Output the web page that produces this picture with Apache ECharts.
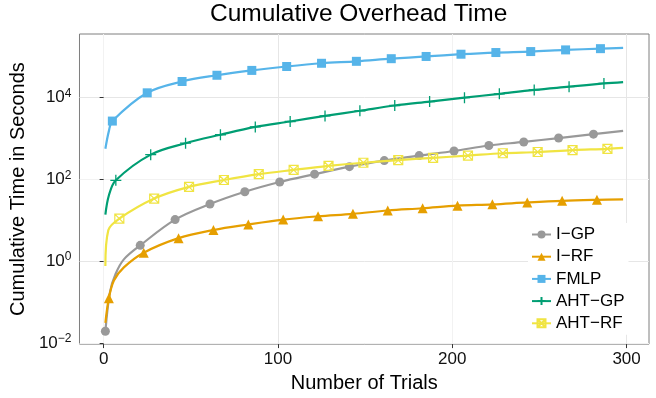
<!DOCTYPE html>
<html><head><meta charset="utf-8">
<script src="https://cdn.jsdelivr.net/npm/echarts@6/dist/echarts.min.js"></script>
<style>html,body{margin:0;padding:0;background:#fff}#c{width:656px;height:398px}</style>
</head><body><div id="c"></div>
<script>
// ---- data ----
const seriesNames = ['I\u2212GP', 'I\u2212RF', 'FMLP', 'AHT\u2212GP', 'AHT\u2212RF'];
const xTickValues = [0, 100, 200, 300];
const yTickValues = [0.01, 1, 100, 10000];

const igpX = [1, 3.65, 6.85, 11.6, 21, 41, 61, 81, 101, 121, 141, 161, 181, 201, 221, 241, 261, 281, 298];
const igpY = [0.0192, 0.177, 0.484, 1.10, 2.42, 10.3, 24.8, 49.5, 85.8, 133, 203, 285, 378, 489, 668, 815, 1015, 1262, 1521];
const igpMarks = [1, 21, 41, 61, 81, 101, 121, 141, 161, 181, 201, 221, 241, 261, 281];

const irfX = [1, 3, 5.9, 11.6, 23, 43, 63, 83, 103, 123, 143, 163, 183, 203, 223, 243, 263, 283, 298];
const irfY = [0.031, 0.123, 0.336, 0.70, 1.60, 3.63, 5.73, 7.83, 10.3, 12.4, 14.3, 17.2, 19.5, 22.6, 24.3, 27.1, 29.7, 31.4, 32.3];
const irfMarks = [3, 23, 43, 63, 83, 103, 123, 143, 163, 183, 203, 223, 243, 263, 283];

const fmlpX = [1, 3, 5, 25, 45, 65, 85, 105, 125, 145, 165, 185, 205, 225, 245, 265, 285, 298];
const fmlpY = [555, 1500, 2640, 12950, 24500, 34800, 45700, 57000, 68300, 76200, 88400, 100200, 113700, 125000, 132000, 145000, 155500, 161800];
const fmlpMarks = [5, 25, 45, 65, 85, 105, 125, 145, 165, 185, 205, 225, 245, 265, 285];

const ahtgpX = [1, 3, 7, 27, 47, 67, 87, 107, 127, 147, 167, 187, 207, 227, 247, 267, 287, 298];
const ahtgpY = [13.6, 40, 94, 399, 759, 1222, 1897, 2578, 3524, 4713, 6339, 7893, 9840, 12250, 15270, 18290, 21930, 23660];
const ahtgpMarks = [7, 27, 47, 67, 87, 107, 127, 147, 167, 187, 207, 227, 247, 267, 287];

const ahtrfX = [1, 2.7, 9, 29, 49, 69, 89, 109, 129, 149, 169, 189, 209, 229, 249, 269, 289, 298];
const ahtrfY = [0.76, 5.7, 10.9, 33.7, 65.2, 95.7, 133, 169, 211, 253, 293, 333, 378, 431, 463, 516, 555, 586];
const ahtrfMarks = [9, 29, 49, 69, 89, 109, 129, 149, 169, 189, 209, 229, 249, 269, 289];

// ---- styling ----
const FONT = 'Liberation Sans, Arial, Helvetica, sans-serif';
const colors = ['#999999', '#E69F00', '#56B4E9', '#009E73', '#F0E442'];
const GRID_MAJOR = '#e6e6e6', GRID_MINOR = '#f2f2f2';

function buildData(xs, ys, marks) {
  return xs.map((x, i) => {
    const item = { value: [x, ys[i]] };
    if (marks.indexOf(x) < 0) item.symbol = 'none';
    return item;
  });
}

function mkSeries(idx, xs, ys, marks, symbol, size, itemStyle) {
  return {
    name: seriesNames[idx],
    type: 'line',
    data: buildData(xs, ys, marks),
    smooth: 0.35,
    showAllSymbol: true,
    symbol: symbol,
    symbolSize: size,
    lineStyle: { color: colors[idx], width: 2.2 },
    itemStyle: itemStyle,
    emphasis: { disabled: true },
    animation: false,
    z: 2 + idx
  };
}

const expLabel = function (v) {
  const l = Math.log10(v);
  const e = Math.round(l);
  if (Math.abs(l - e) > 1e-6 || e % 2 !== 0) return '';
  return '{b|10}{s|' + (e < 0 ? '\u2212' + (-e) : e) + '}';
};

const chart = echarts.init(document.getElementById('c'), null, { renderer: 'canvas' });
chart.setOption({
  backgroundColor: '#ffffff',
  animation: false,
  title: {
    text: 'Cumulative Overhead Time',
    left: 210, top: 2, padding: 0,
    textStyle: { fontFamily: FONT, fontSize: 24.5, fontWeight: 'normal', color: '#000' }
  },
  grid: {
    left: 77, right: 7, top: 34, bottom: 46,
    show: true, backgroundColor: '#fff', borderColor: '#7f7f7f', borderWidth: 1
  },
  legend: {
    orient: 'vertical',
    left: 528, top: 223,
    backgroundColor: '#fff',
    padding: [3, 4, 3, 3],
    itemGap: 5.2,
    itemWidth: 19, itemHeight: 10,
    data: seriesNames,
    textStyle: { fontFamily: FONT, fontSize: 17, color: '#000' }
  },
  xAxis: {
    type: 'value',
    min: -13.85, max: 312.85,
    name: 'Number of Trials',
    nameLocation: 'middle', nameGap: 25,
    nameTextStyle: { fontFamily: FONT, fontSize: 20, color: '#000' },
    axisLine: { show: false },
    axisTick: { show: true, length: 4, lineStyle: { color: '#333' }, customValues: xTickValues },
    axisLabel: {
      customValues: xTickValues, margin: 7,
      fontFamily: FONT, fontSize: 17, color: '#111',
      formatter: v => (v % 100 === 0 ? String(v) : '')
    },
    splitLine: { show: true, lineStyle: { color: [GRID_MINOR, GRID_MAJOR], width: 1 } }
  },
  yAxis: {
    type: 'log', logBase: 10,
    min: Math.pow(10, -2.03), max: Math.pow(10, 5.55),
    name: 'Cumulative Time in Seconds',
    nameLocation: 'middle', nameGap: 44,
    nameTextStyle: { fontFamily: FONT, fontSize: 20, color: '#000' },
    axisLine: { show: false },
    axisTick: { show: true, length: 4, lineStyle: { color: '#333' }, customValues: yTickValues },
    axisLabel: {
      customValues: yTickValues, margin: 8,
      formatter: expLabel,
      rich: {
        b: { fontFamily: FONT, fontSize: 17, color: '#111', lineHeight: 20 },
        s: { fontFamily: FONT, fontSize: 12, color: '#111', lineHeight: 12, verticalAlign: 'top' }
      }
    },
    splitLine: { show: true, lineStyle: { color: [GRID_MINOR, GRID_MAJOR], width: 1 } }
  },
  series: [
    mkSeries(0, igpX, igpY, igpMarks, 'circle', 9, { color: colors[0] }),
    mkSeries(1, irfX, irfY, irfMarks, 'triangle', 10, { color: colors[1] }),
    mkSeries(2, fmlpX, fmlpY, fmlpMarks, 'rect', 9, { color: colors[2] }),
    mkSeries(3, ahtgpX, ahtgpY, ahtgpMarks, 'path://M5,0 L5,10 M0,5 L10,5', 11,
      { color: 'rgba(0,0,0,0)', borderColor: colors[3], borderWidth: 1.3 }),
    mkSeries(4, ahtrfX, ahtrfY, ahtrfMarks, 'path://M0,0 L10,0 L10,10 L0,10 Z M0,0 L10,10 M10,0 L0,10', 9,
      { color: 'rgba(0,0,0,0)', borderColor: colors[4], borderWidth: 1.2 })
  ]
});
</script>
</body></html>
